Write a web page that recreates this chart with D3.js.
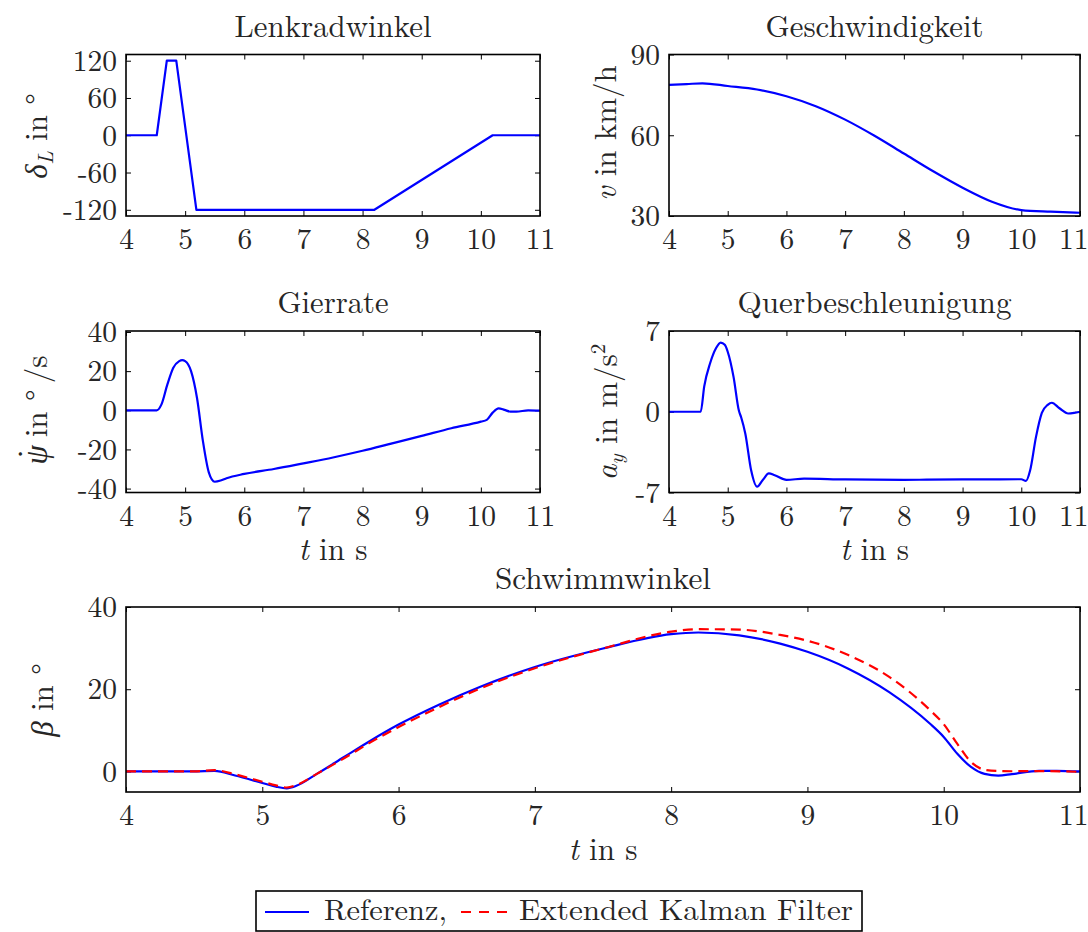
<!DOCTYPE html>
<html>
<head>
<meta charset="utf-8">
<script src="https://cdn.jsdelivr.net/npm/d3@7"></script>
<style>
  html, body { margin: 0; padding: 0; background: #fff; }
  svg { display: block; }
</style>
</head>
<body>
<svg id="chart" width="1088" height="932"></svg>
<script>
// ---------------- DATA ----------------
const xTicks = [4, 5, 6, 7, 8, 9, 10, 11];

// Lenkradwinkel (steering wheel angle, deg)
const steerT = [4, 4.52, 4.69, 4.85, 5.19, 8.2, 10.2, 11];
const steerV = [0, 0, 120, 120, -120, -120, 0, 0];
const steerTicks = [-120, -60, 0, 60, 120];

// Geschwindigkeit (speed, km/h)
const speedT = [4, 4.3, 4.57, 5, 5.5, 6, 6.5, 7, 7.5, 8, 8.5, 9, 9.5, 10, 10.5, 11];
const speedV = [78.7, 79.0, 79.3, 78.3, 77.0, 74.5, 70.8, 65.8, 59.8, 53.2, 46.6, 40.5, 35.3, 32.2, 31.6, 31.2];
const speedTicks = [30, 60, 90];

// Gierrate (yaw rate, deg/s)
const yawT = [4, 4.52, 4.6, 4.7, 4.8, 4.9, 4.95, 5.0, 5.1, 5.2, 5.3, 5.4, 5.5, 5.6, 5.7, 6.0, 6.5, 7.0, 7.5, 8.0, 8.5, 9.0, 9.5, 10.0, 10.1, 10.2, 10.3, 10.4, 10.5, 10.6, 10.8, 11];
const yawV = [0, 0, 3, 13.2, 21.7, 25.1, 25.6, 25.1, 20, 6.4, -15.6, -31.7, -36.5, -35.9, -34.7, -32.5, -30, -27.1, -24.1, -20.7, -16.9, -13.1, -9.2, -5.8, -4.9, -1.2, 1.0, 0.2, -0.7, -0.7, 0, -0.2];
const yawTicks = [-40, -20, 0, 20, 40];

// Querbeschleunigung (lateral acceleration, m/s^2)
const latT = [4, 4.54, 4.6, 4.7, 4.8, 4.88, 4.95, 5.0, 5.1, 5.19, 5.23, 5.3, 5.4, 5.5, 5.6, 5.7, 5.8, 6.0, 6.3, 7, 8, 9, 10, 10.08, 10.15, 10.25, 10.35, 10.45, 10.52, 10.65, 10.8, 10.9, 11];
const latV = [0, 0, 2.2, 4.2, 5.5, 6.0, 5.8, 5.2, 3.0, 0.1, -0.5, -1.9, -5.1, -6.5, -5.9, -5.35, -5.5, -5.9, -5.8, -5.87, -5.9, -5.87, -5.85, -6.0, -5.1, -2.2, -0.1, 0.6, 0.78, 0.3, -0.15, -0.1, 0];
const latTicks = [-7, 0, 7];

// Schwimmwinkel (side slip angle, deg)
const slipT = [4, 4.5, 4.65, 4.8, 5.0, 5.1, 5.18, 5.25, 5.4, 5.6, 5.8, 6.0, 6.3, 6.6, 7.0, 7.5, 8.0, 8.2, 8.5, 8.8, 9.0, 9.3, 9.6, 9.9, 10.0, 10.1, 10.2, 10.3, 10.4, 10.5, 10.7, 10.9, 11];
const slipRef = [0, 0, 0.15, -1, -2.8, -3.7, -4.1, -3.5, -0.6, 3.5, 7.6, 11.4, 16.3, 20.6, 25.4, 29.9, 33.4, 33.8, 33.1, 31.1, 29.1, 25.0, 19.3, 11.6, 8.4, 4.3, 1.1, -0.6, -1.0, -0.65, 0.15, 0.1, 0];
const slipEkf = [0, 0, 0.3, -0.7, -2.5, -3.4, -3.9, -3.3, -0.6, 3.2, 7.2, 10.8, 15.7, 20.2, 25.1, 29.9, 34.0, 34.6, 34.5, 33.2, 31.8, 28.3, 23.0, 14.9, 11.5, 6.7, 2.3, 0.4, 0.1, 0.05, 0.1, 0.0, -0.1];
const slipTicks = [0, 20, 40];

const legendLabels = ["Referenz,", "Extended Kalman Filter"];

// ---------------- DRAWING ----------------
const FONT = '"Latin Modern Roman", "Liberation Serif", serif';
const svg = d3.select("#chart");
const BLUE = "#0000ff", RED = "#ff0000", TXT = "#262626";
const FS = 29.5, FT = 31;

function zip(ts, vs) { return ts.map((t, i) => [t, vs[i]]); }
function txt(sel) { return sel.style("font-family", FONT).attr("fill", TXT); }

function panel(c) {
  const x = d3.scaleLinear().domain([4, 11]).range([c.l, c.r]);
  const y = d3.scaleLinear().domain(c.yd).range([c.b, c.t]);
  const g = svg.append("g");

  const tk = 5;
  const ax = [
    [d3.axisBottom(x).tickValues(xTicks).tickSize(-tk).tickFormat(d3.format("d")), `translate(0,${c.b})`, "bottom"],
    [d3.axisTop(x).tickValues(xTicks).tickSize(-tk).tickFormat(""), `translate(0,${c.t})`, "top"],
    [d3.axisLeft(y).tickValues(c.yticks).tickSize(-tk).tickFormat(d => d), `translate(${c.l},0)`, "left"],
    [d3.axisRight(y).tickValues(c.yticks).tickSize(-tk).tickFormat(""), `translate(${c.r},0)`, "right"]
  ];
  ax.forEach(([a, tr, side]) => {
    const s = g.append("g").attr("transform", tr).call(a);
    s.select(".domain").remove();
    s.selectAll("line").attr("stroke", "#000").attr("stroke-width", 1);
    txt(s.selectAll("text")).attr("font-size", FS);
    if (side === "bottom") {
      s.selectAll("text").attr("y", 33).attr("dy", null);
      if (c.clampRight) {
        s.selectAll("text").filter(d => d === 11).attr("text-anchor", "end").attr("x", 1088 - x(11));
      }
    }
    if (side === "left") {
      s.selectAll("text").attr("x", -9).attr("dy", "0.33em");
    }
  });

  const line = d3.line().x(d => x(d[0])).y(d => y(d[1])).curve(c.curve || d3.curveMonotoneX);
  c.series.forEach(s => {
    g.append("path").datum(zip(s.t, s.v))
      .attr("fill", "none").attr("stroke", s.color).attr("stroke-width", 2.2)
      .attr("stroke-dasharray", s.dash || null)
      .attr("stroke-linejoin", "round")
      .attr("d", line);
  });

  g.append("rect").attr("x", c.l).attr("y", c.t).attr("width", c.r - c.l).attr("height", c.b - c.t)
    .attr("fill", "none").attr("stroke", "#000").attr("stroke-width", 1.6);

  txt(g.append("text")).attr("x", (c.l + c.r) / 2).attr("y", c.t - 18).attr("text-anchor", "middle")
    .attr("font-size", FT).attr("textLength", c.titleW).attr("lengthAdjust", "spacingAndGlyphs")
    .text(c.title);

  const yl = txt(g.append("text"))
    .attr("transform", `translate(${c.ylx},${c.ylc}) rotate(-90)`)
    .attr("text-anchor", "middle").attr("font-size", FT);
  c.ylabel(yl);

  if (c.xlabel) {
    const xl = txt(g.append("text")).attr("x", (c.l + c.r) / 2).attr("y", c.b + 67.5)
      .attr("text-anchor", "middle").attr("font-size", FT);
    xl.append("tspan").attr("font-style", "italic").text("t");
    xl.append("tspan").text(" in s");
  }
}

panel({
  l: 126, r: 540, t: 54.5, b: 216, yd: [-130, 130], yticks: steerTicks,
  title: "Lenkradwinkel", titleW: 197, ylx: 47, ylc: 136,
  ylabel: t => {
    t.append("tspan").attr("font-style", "italic").text("δ");
    t.append("tspan").attr("font-style", "italic").attr("font-size", 21).attr("dy", 6).text("L");
    t.append("tspan").attr("dy", -6).text(" in °");
  },
  curve: d3.curveLinear,
  series: [{ t: steerT, v: steerV, color: BLUE }]
});

panel({
  l: 669, r: 1080, t: 54.5, b: 216, yd: [30, 90], yticks: speedTicks, clampRight: true,
  title: "Geschwindigkeit", titleW: 218, ylx: 616, ylc: 133,
  ylabel: t => {
    t.append("tspan").attr("font-style", "italic").text("v");
    t.append("tspan").text(" in km/h");
  },
  series: [{ t: speedT, v: speedV, color: BLUE }]
});

panel({
  l: 126, r: 540, t: 331, b: 492.5, yd: [-42, 40.5], yticks: yawTicks, xlabel: true,
  title: "Gierrate", titleW: 111, ylx: 47, ylc: 410,
  ylabel: t => {
    t.append("tspan").attr("font-style", "italic").text("ψ");
    t.append("tspan").attr("dx", -13).attr("dy", -8).text("˙");
    t.append("tspan").attr("dx", 2).attr("dy", 8).text(" in °\u2009/s");
  },
  series: [{ t: yawT, v: yawV, color: BLUE }]
});

panel({
  l: 669, r: 1080, t: 331, b: 492.5, yd: [-7, 7], yticks: latTicks, xlabel: true, clampRight: true,
  title: "Querbeschleunigung", titleW: 274, ylx: 617, ylc: 412,
  ylabel: t => {
    t.append("tspan").attr("font-style", "italic").text("a");
    t.append("tspan").attr("font-style", "italic").attr("font-size", 21).attr("dy", 6).text("y");
    t.append("tspan").attr("dy", -6).text(" in m/s");
    t.append("tspan").attr("font-size", 21).attr("dy", -12).text("2");
  },
  series: [{ t: latT, v: latV, color: BLUE }]
});

panel({
  l: 126, r: 1080, t: 607, b: 792, yd: [-5, 40], yticks: slipTicks, xlabel: true, clampRight: true,
  title: "Schwimmwinkel", titleW: 216, ylx: 53, ylc: 700,
  ylabel: t => {
    t.append("tspan").attr("font-style", "italic").text("β");
    t.append("tspan").text(" in °");
  },
  series: [
    { t: slipT, v: slipRef, color: BLUE },
    { t: slipT, v: slipEkf, color: RED, dash: "10,6" }
  ]
});

// ---------------- LEGEND ----------------
const lg = svg.append("g");
lg.append("rect").attr("x", 256).attr("y", 891).attr("width", 606).attr("height", 40)
  .attr("fill", "#fff").attr("stroke", "#000").attr("stroke-width", 1.6);
lg.append("line").attr("x1", 265).attr("x2", 309).attr("y1", 912).attr("y2", 912)
  .attr("stroke", BLUE).attr("stroke-width", 2.2);
txt(lg.append("text")).attr("x", 324).attr("y", 920).attr("font-size", FS)
  .attr("textLength", 123).attr("lengthAdjust", "spacingAndGlyphs").text(legendLabels[0]);
lg.append("line").attr("x1", 461).attr("x2", 507).attr("y1", 912).attr("y2", 912)
  .attr("stroke", RED).attr("stroke-width", 2.2).attr("stroke-dasharray", "10,8");
txt(lg.append("text")).attr("x", 519).attr("y", 920).attr("font-size", FS)
  .attr("textLength", 334).attr("lengthAdjust", "spacingAndGlyphs").text(legendLabels[1]);
</script>
</body>
</html>
